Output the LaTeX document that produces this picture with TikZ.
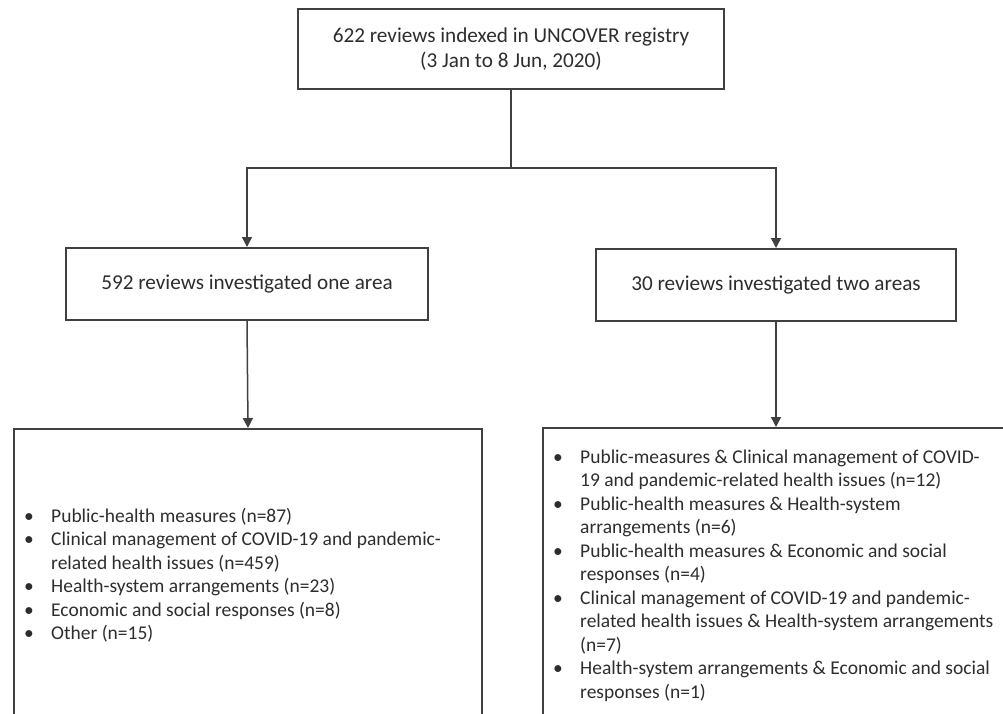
\documentclass[tikz,border=0pt]{standalone}
\usepackage{fontspec}
\setmainfont{Carlito}
\usetikzlibrary{positioning, calc, arrows.meta}
\definecolor{boxgray}{RGB}{64,64,64}
\definecolor{textgray}{RGB}{45,45,45}

\tikzset{
  box/.style={draw=boxgray, line width=2pt, text=textgray, inner sep=0pt},
  listframe/.style={box, anchor=north west},
  listtext/.style={text=textgray, inner sep=0pt, font=\fontsize{19.5}{23.5}\selectfont},
  link/.style={draw=boxgray, line width=1.5pt},
  arrow/.style={link, -{Triangle[length=10pt,width=10pt]}},
}
\newcommand{\itemlist}[1]{\begin{tabular}{@{}p{27pt}@{}l@{}}#1\end{tabular}}

\begin{document}
\begin{tikzpicture}[x=1pt, y=-1pt, font=\fontsize{21.2}{25}\selectfont]
    \clip (0,0) rectangle (1003,714);

    % 上の箱
    \node[box, minimum width=426pt, minimum height=80pt, align=center] (registry) at (511,49)
        {622 reviews indexed in UNCOVER registry\\(3 Jan to 8 Jun, 2020)};

    % 中間の箱
    \node[box, minimum width=362pt, minimum height=72pt] (onearea) at (247,284)
        {592 reviews investigated one area};
    \node[box, minimum width=360pt, minimum height=72pt] (twoareas) at (776,285)
        {30 reviews investigated two areas};

    % 下の箱 (一つの領域)
    \node[listframe, minimum width=468pt, minimum height=292pt] (onelist) at (13,428) {};
    \node[listtext, below right=77.5pt and 11pt of onelist.north west] (oneitems)
        {\itemlist{
            \textbullet & Public-health measures (n=87)\\
            \textbullet & Clinical management of COVID-19 and pandemic-\\
                        & related health issues (n=459)\\
            \textbullet & Health-system arrangements (n=23)\\
            \textbullet & Economic and social responses (n=8)\\
            \textbullet & Other (n=15)}};

    % 下の箱 (二つの領域)
    \node[listframe, minimum width=470pt, minimum height=296pt] (twolist) at (542,427) {};
    \node[listtext, below right=19.5pt and 11pt of twolist.north west] (twoitems)
        {\itemlist{
            \textbullet & Public-measures \& Clinical management of COVID-\\
                        & 19 and pandemic-related health issues (n=12)\\
            \textbullet & Public-health measures \& Health-system\\
                        & arrangements (n=6)\\
            \textbullet & Public-health measures \& Economic and social\\
                        & responses (n=4)\\
            \textbullet & Clinical management of COVID-19 and pandemic-\\
                        & related health issues \& Health-system arrangements\\
                        & (n=7)\\
            \textbullet & Health-system arrangements \& Economic and social\\
                        & responses (n=1)}};

    % 矢印
    \coordinate (split) at (511,168);
    \draw[link] (registry.south) -- (split);
    \draw[arrow] (split) -| (onearea.north);
    \draw[arrow] (split) -| (twoareas.north);
    \draw[arrow] (onearea.south) -- (onelist.north);
    \draw[arrow] (twoareas.south) -- (twoareas.south |- twolist.north);

\end{tikzpicture}
\end{document}
